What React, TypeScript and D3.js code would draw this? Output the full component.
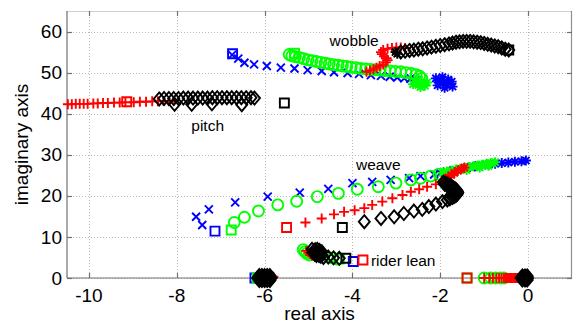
import * as d3 from "d3";
import { useEffect, useRef } from "react";

type Pt = [number, number];

const xTicks = [-10, -8, -6, -4, -2, 0];
const yTicks = [0, 10, 20, 30, 40, 50, 60];

// blue branches (x markers, * at the end, squares at the start)
const blueWobble: Pt[] = [[-6.74, 54.3], [-6.6, 53.4], [-6.46, 52.4], [-6.24, 52.0], [-5.95, 51.6], [-5.63, 51.2], [-5.32, 51.0], [-5.02, 50.6], [-4.7, 50.4], [-4.42, 50.1], [-4.11, 49.9], [-3.85, 49.7], [-3.58, 49.4], [-3.35, 49.2], [-3.15, 49.0], [-2.98, 48.8], [-2.82, 48.6], [-2.68, 48.5], [-2.55, 48.3]];
const blueWobbleEnd: Pt[] = [[-2.1, 48.6], [-2.0, 47.6], [-1.95, 48.9], [-1.85, 47.1], [-1.82, 48.3], [-1.74, 47.8], [-1.72, 46.6], [-1.9, 46.3], [-2.06, 46.9], [-1.98, 48.1]];
const blueWeave: Pt[] = [[-7.42, 12.9], [-7.56, 14.9], [-7.27, 16.7], [-6.67, 18.4], [-5.93, 19.8], [-5.2, 20.8], [-4.55, 21.7], [-4.0, 23.1], [-3.55, 23.4], [-3.13, 23.9], [-2.71, 24.3], [-2.45, 24.8], [-2.14, 25.2], [-2.0, 25.5], [-1.85, 25.9], [-1.7, 26.2], [-1.55, 26.5], [-1.4, 26.8], [-1.3, 27.0]];
const blueWeaveEnd: Pt[] = [[-1.2, 27.2], [-1.05, 27.4], [-0.9, 27.6], [-0.75, 27.8], [-0.6, 28.0], [-0.45, 28.1], [-0.3, 28.3], [-0.15, 28.4], [-0.05, 28.6]];
const blueAxis: Pt[] = [[-6.18, 0], [-6.12, 0]];
const blueStarts: Pt[] = [[-6.73, 54.6], [-7.13, 11.4], [-3.98, 4.0], [-6.22, 0]];

// green branches (o markers)
const greenWobble: Pt[] = [[-5.44, 54.4], [-5.38, 54.1], [-5.3, 53.9], [-5.21, 53.7], [-5.11, 53.4], [-5.01, 53.1], [-4.92, 52.9], [-4.82, 52.7], [-4.72, 52.5], [-4.62, 52.3], [-4.53, 52.1], [-4.43, 51.9], [-4.33, 51.8], [-4.23, 51.6], [-4.13, 51.5], [-4.03, 51.3], [-3.92, 51.2], [-3.81, 51.0], [-3.7, 50.9], [-3.59, 50.8], [-3.48, 50.7], [-3.37, 50.6], [-3.26, 50.5], [-3.14, 50.4], [-3.02, 50.3], [-2.9, 50.2], [-2.78, 50.0], [-2.66, 49.8], [-2.55, 49.5], [-2.47, 49.1], [-2.42, 48.6]];
const greenWobbleEnd: Pt[] = [[-2.48, 48.2], [-2.55, 47.7], [-2.62, 47.2], [-2.5, 47.0], [-2.4, 47.4], [-2.35, 46.8], [-2.45, 46.5], [-2.3, 47.6]];
const greenWeave: Pt[] = [[-6.69, 13.5], [-6.46, 14.8], [-6.14, 16.3], [-5.7, 17.8], [-5.27, 18.7], [-4.8, 19.8], [-4.32, 20.6], [-3.89, 21.6], [-3.41, 22.2], [-3.01, 23.1], [-2.67, 23.9], [-2.45, 24.3], [-2.22, 24.8], [-2.03, 25.3]];
const greenWeaveEnd: Pt[] = [[-1.95, 25.6], [-1.85, 25.9], [-1.75, 26.1], [-1.7, 25.6], [-1.65, 26.4], [-1.55, 26.6], [-1.45, 26.8], [-1.4, 26.3], [-1.35, 27.0], [-1.25, 27.2], [-1.15, 27.4], [-1.1, 26.9], [-1.05, 27.6], [-0.95, 27.8], [-0.9, 27.3], [-0.85, 28.0], [-0.75, 28.2]];
const greenLean: Pt[] = [[-5.12, 6.9], [-5.08, 6.4], [-5.04, 6.0], [-4.98, 5.6], [-4.45, 4.9], [-4.33, 4.6]];
const greenAxis: Pt[] = [[-6.15, 0], [-6.1, 0], [-1.0, 0], [-0.85, 0], [-0.74, 0], [-0.63, 0], [-0.55, 0]];
const greenStarts: Pt[] = [[-5.32, 54.7], [-6.76, 11.7], [-6.17, 0], [-1.39, 0], [-4.3, 4.6]];

// red branches (+ markers)
const redPitch: Pt[] = [[-10.48, 42.3], [-10.39, 42.3], [-10.3, 42.4], [-10.21, 42.4], [-10.12, 42.4], [-10.03, 42.4], [-9.9, 42.5], [-9.8, 42.5], [-9.68, 42.6], [-9.57, 42.6], [-9.43, 42.7], [-9.3, 42.7], [-9.17, 42.8], [-8.98, 42.8], [-8.84, 42.9], [-8.7, 42.9], [-8.56, 43.0], [-8.43, 43.0], [-8.3, 43.1], [-8.18, 43.1], [-8.06, 43.2]];
const redWobble: Pt[] = [[-3.68, 50.2], [-3.6, 50.5], [-3.52, 50.8], [-3.45, 51.2], [-3.38, 51.6], [-3.3, 52.0], [-3.24, 52.5], [-3.2, 53.0], [-3.22, 53.5], [-3.28, 54.0], [-3.33, 54.5], [-3.35, 55.0], [-3.3, 55.5], [-3.2, 55.8], [-3.1, 56.0], [-3.0, 56.1], [-2.9, 56.1], [-2.8, 56.0]];
const redWeave: Pt[] = [[-5.07, 13.5], [-4.7, 14.5], [-4.42, 15.5], [-4.19, 16.1], [-3.95, 16.5], [-3.73, 17.0], [-3.55, 17.8], [-3.32, 18.6], [-3.09, 19.4], [-2.86, 20.2], [-2.67, 21.0], [-2.48, 21.6], [-2.3, 22.2], [-2.1, 22.8], [-1.96, 23.4]];
const redWeaveEnd: Pt[] = [[-1.9, 23.9], [-1.82, 24.5], [-1.75, 25.1], [-1.68, 25.6], [-1.6, 26.1], [-1.52, 26.5], [-1.45, 26.9]];
const redLean: Pt[] = [[-5.05, 6.6], [-5.0, 6.2], [-4.96, 5.8], [-4.92, 5.5]];
const redAxis: Pt[] = [[-5.85, 0], [-5.8, 0.3], [-1.0, 0], [-0.88, 0], [-0.8, 0], [-0.72, 0], [-0.66, 0], [-0.6, 0], [-0.55, 0], [-0.52, 0], [-0.49, 0], [-0.46, 0], [-0.43, 0], [-0.4, 0], [-0.37, 0], [-0.34, 0], [-0.31, 0], [-0.28, 0], [-0.25, 0], [-0.22, 0], [-0.19, 0], [-0.16, 0]];
const redStarts: Pt[] = [[-9.14, 42.9], [-5.5, 12.3], [-3.76, 4.4], [-1.39, 0]];

// black branches (diamond markers)
const blackPitch: Pt[] = [[-8.4, 43.6], [-8.29, 43.7], [-8.18, 43.7], [-8.07, 43.7], [-7.96, 43.7], [-7.85, 43.8], [-7.74, 43.8], [-7.63, 43.8], [-7.52, 43.8], [-7.41, 43.8], [-7.3, 43.8], [-7.19, 43.9], [-7.08, 43.9], [-6.97, 43.9], [-6.86, 43.9], [-6.75, 43.9], [-6.64, 43.9], [-6.53, 43.9], [-6.42, 43.9], [-6.31, 43.9], [-6.23, 43.8], [-8.05, 42.3], [-7.66, 42.3], [-7.2, 42.4], [-6.52, 42.2]];
const blackWobble: Pt[] = [[-0.44, 55.5], [-0.52, 55.7], [-0.6, 56.0], [-0.68, 56.3], [-0.76, 56.5], [-0.84, 56.7], [-0.92, 56.9], [-1.0, 57.1], [-1.08, 57.3], [-1.16, 57.4], [-1.24, 57.5], [-1.32, 57.6], [-1.4, 57.6], [-1.48, 57.6], [-1.56, 57.5], [-1.64, 57.4], [-1.72, 57.2], [-1.8, 57.0], [-1.9, 56.8], [-2.0, 56.6], [-2.1, 56.4], [-2.2, 56.2], [-2.3, 56.0], [-2.4, 55.8], [-2.5, 55.7], [-2.6, 55.5], [-2.7, 55.4], [-2.8, 55.2], [-2.9, 55.0]];
const blackWobbleEnd: Pt[] = [[-2.98, 54.6], [-3.02, 55.0]];
const blackWeave: Pt[] = [[-3.73, 13.7], [-3.35, 14.5], [-3.05, 14.9], [-2.83, 15.7], [-2.6, 16.3], [-2.41, 16.7], [-2.26, 17.4], [-2.1, 18.0], [-1.95, 18.6], [-1.84, 19.0], [-1.78, 19.3], [-1.72, 19.6], [-1.67, 19.9], [-1.63, 20.2], [-1.61, 20.5], [-1.6, 20.8], [-1.61, 21.1], [-1.63, 21.4], [-1.66, 21.7], [-1.7, 22.0], [-1.74, 22.3], [-1.78, 22.6], [-1.83, 22.9], [-1.88, 23.1], [-1.93, 23.3], [-1.8, 19.6], [-1.72, 20.2], [-1.68, 20.8], [-1.7, 21.4], [-1.76, 21.9], [-1.84, 22.4], [-1.9, 22.8]];
const blackLean: Pt[] = [[-4.92, 7.0], [-4.88, 6.6], [-4.84, 6.2], [-4.8, 5.8], [-4.76, 5.5], [-4.72, 5.3], [-4.85, 6.9], [-4.78, 6.4], [-4.72, 6.0], [-4.7, 5.6], [-4.9, 6.2], [-4.86, 5.8], [-4.82, 5.5], [-4.8, 7.0], [-4.75, 6.7], [-4.7, 6.4], [-4.66, 5.0], [-4.55, 5.1], [-4.43, 4.9], [-4.3, 4.8]];
const blackAxis: Pt[] = [[-6.16, 0], [-6.12, 0], [-6.08, 0], [-6.04, 0], [-6.0, 0], [-5.96, 0], [-5.92, 0], [-5.88, 0], [-5.85, 0], [-6.12, 0.6], [-6.06, 0.6], [-6.0, 0.6], [-5.94, 0.6], [-5.88, 0.6], [-6.12, -0.6], [-6.06, -0.6], [-6.0, -0.6], [-5.94, -0.6], [-5.88, -0.6], [-0.16, 0], [-0.12, 0], [-0.08, 0], [-0.04, 0], [-0.01, 0], [-0.13, 0.5], [-0.07, 0.5], [-0.02, 0.5], [-0.13, -0.5], [-0.07, -0.5], [-0.02, -0.5]];
const blackStarts: Pt[] = [[-5.55, 42.6], [-0.44, 55.5], [-4.23, 12.3], [-4.15, 4.8]];

const labels: { text: string; re: number; im: number }[] = [
  { text: "wobble", re: -4.52, im: 56.5 },
  { text: "pitch", re: -7.67, im: 35.8 },
  { text: "weave", re: -3.92, im: 26.2 },
  { text: "rider lean", re: -3.58, im: 2.8 },
];

const W = 574;
const H = 324;
const margin = { top: 11, right: 2, bottom: 46, left: 67 };
const FONT = "'Liberation Sans', Arial, sans-serif";

const markerPath = (m: string) => {
  switch (m) {
    case "x":
      return "M-4,-4L4,4M-4,4L4,-4";
    case "+":
      return "M-5,0H5M0,-5V5";
    case "*":
      return "M-5,0H5M0,-5V5M-3.6,-3.6L3.6,3.6M-3.6,3.6L3.6,-3.6";
    case "d":
      return "M0,-6.5L5.5,0L0,6.5L-5.5,0Z";
    case "s":
      return "M-4.5,-4.5H4.5V4.5H-4.5Z";
    default:
      return "M5.5,0A5.5,5.5,0,1,1,-5.5,0A5.5,5.5,0,1,1,5.5,0Z";
  }
};

const series = [
  { color: "#0000ff", marker: "s", pts: blueStarts },
  { color: "#0000ff", marker: "x", pts: [...blueWobble, ...blueWeave, ...blueAxis] },
  { color: "#0000ff", marker: "*", pts: [...blueWobbleEnd, ...blueWeaveEnd] },
  { color: "#00ff00", marker: "s", pts: greenStarts },
  { color: "#00ff00", marker: "o", pts: [...greenWobble, ...greenWeave, ...greenLean, ...greenAxis] },
  { color: "#00ff00", marker: "*", pts: [...greenWobbleEnd, ...greenWeaveEnd] },
  { color: "#ff0000", marker: "s", pts: redStarts },
  { color: "#ff0000", marker: "+", pts: [...redPitch, ...redWobble, ...redWeave, ...redLean, ...redAxis] },
  { color: "#ff0000", marker: "*", pts: redWeaveEnd },
  { color: "#000000", marker: "s", pts: blackStarts },
  { color: "#000000", marker: "d", pts: [...blackPitch, ...blackWobble, ...blackWeave, ...blackLean, ...blackAxis] },
  { color: "#000000", marker: "*", pts: blackWobbleEnd },
];

const App = () => {
  const chartRef = useRef<SVGSVGElement>(null);

  useEffect(() => {
    const svg = d3.select(chartRef.current);
    svg.selectAll("*").remove();

    const x0 = margin.left;
    const x1 = W - margin.right;
    const y0 = H - margin.bottom;
    const y1 = margin.top;

    const scaleX = d3.scaleLinear().domain([-10.5, 1]).range([x0, x1]);
    const scaleY = d3.scaleLinear().domain([0, 65]).range([y0, y1]);

    svg.append("rect").attr("width", W).attr("height", H).attr("fill", "#fff");

    // сетка
    const grid = svg.append("g").attr("stroke", "#b8b8b8").attr("stroke-width", 1).attr("stroke-dasharray", "1,2");
    xTicks.forEach((t) => {
      const x = Math.round(scaleX(t)) + 0.5;
      grid.append("line").attr("x1", x).attr("x2", x).attr("y1", y1).attr("y2", y0);
    });
    yTicks.forEach((t) => {
      const y = Math.round(scaleY(t)) + 0.5;
      grid.append("line").attr("x1", x0).attr("x2", x1).attr("y1", y).attr("y2", y);
    });

    // рамка и засечки
    const ax = svg.append("g").attr("stroke-width", 1.2).attr("fill", "none");
    ax.append("line").attr("x1", x0).attr("x2", x1).attr("y1", y1 + 0.5).attr("y2", y1 + 0.5).attr("stroke", "#cfcfcf");
    ax.append("line").attr("x1", x1 - 0.5).attr("x2", x1 - 0.5).attr("y1", y1).attr("y2", y0).attr("stroke", "#909090");
    ax.append("line").attr("x1", x0).attr("x2", x0).attr("y1", y1).attr("y2", y0).attr("stroke", "#707070");
    ax.append("line").attr("x1", x0).attr("x2", x1).attr("y1", y0).attr("y2", y0).attr("stroke", "#707070");
    xTicks.forEach((t) => {
      const x = Math.round(scaleX(t)) + 0.5;
      ax.append("line").attr("x1", x).attr("x2", x).attr("y1", y0).attr("y2", y0 - 5).attr("stroke", "#707070");
      ax.append("line").attr("x1", x).attr("x2", x).attr("y1", y1).attr("y2", y1 + 5).attr("stroke", "#707070");
    });
    yTicks.forEach((t) => {
      const y = Math.round(scaleY(t)) + 0.5;
      ax.append("line").attr("x1", x0).attr("x2", x0 + 5).attr("y1", y).attr("y2", y).attr("stroke", "#707070");
      ax.append("line").attr("x1", x1).attr("x2", x1 - 5).attr("y1", y).attr("y2", y).attr("stroke", "#707070");
    });

    // подписи делений
    svg.append("g")
      .selectAll("text")
      .data(xTicks)
      .enter()
      .append("text")
      .attr("x", (d) => scaleX(d))
      .attr("y", y0 + 24)
      .attr("text-anchor", "middle")
      .style("font", `19px ${FONT}`)
      .text((d) => d);
    svg.append("g")
      .selectAll("text")
      .data(yTicks)
      .enter()
      .append("text")
      .attr("x", x0 - 5)
      .attr("y", (d) => scaleY(d))
      .attr("dy", "0.35em")
      .attr("text-anchor", "end")
      .style("font", `19px ${FONT}`)
      .text((d) => d);

    svg.append("text")
      .attr("x", (x0 + x1) / 2)
      .attr("y", H - 4)
      .attr("text-anchor", "middle")
      .style("font", `19px ${FONT}`)
      .text("real axis");
    svg.append("text")
      .attr("transform", `translate(28, ${(y0 + y1) / 2}) rotate(-90)`)
      .attr("text-anchor", "middle")
      .style("font", `19px ${FONT}`)
      .text("imaginary axis");

    // маркеры корней
    const marks = svg.append("g");
    series.forEach((s) => {
      marks.append("g")
        .selectAll("path")
        .data(s.pts)
        .enter()
        .append("path")
        .attr("d", markerPath(s.marker))
        .attr("transform", (d) => `translate(${scaleX(d[0])},${scaleY(d[1])})`)
        .attr("fill", "none")
        .attr("stroke", s.color)
        .attr("stroke-width", 1.9);
    });

    svg.append("g")
      .selectAll("text")
      .data(labels)
      .enter()
      .append("text")
      .attr("x", (d) => scaleX(d.re))
      .attr("y", (d) => scaleY(d.im))
      .style("font", `15.5px ${FONT}`)
      .text((d) => d.text);
  }, []);

  return (
    <svg ref={chartRef} width={W} height={H} style={{ position: "absolute", left: 0, top: 0 }}></svg>
  );
};

export default App;
